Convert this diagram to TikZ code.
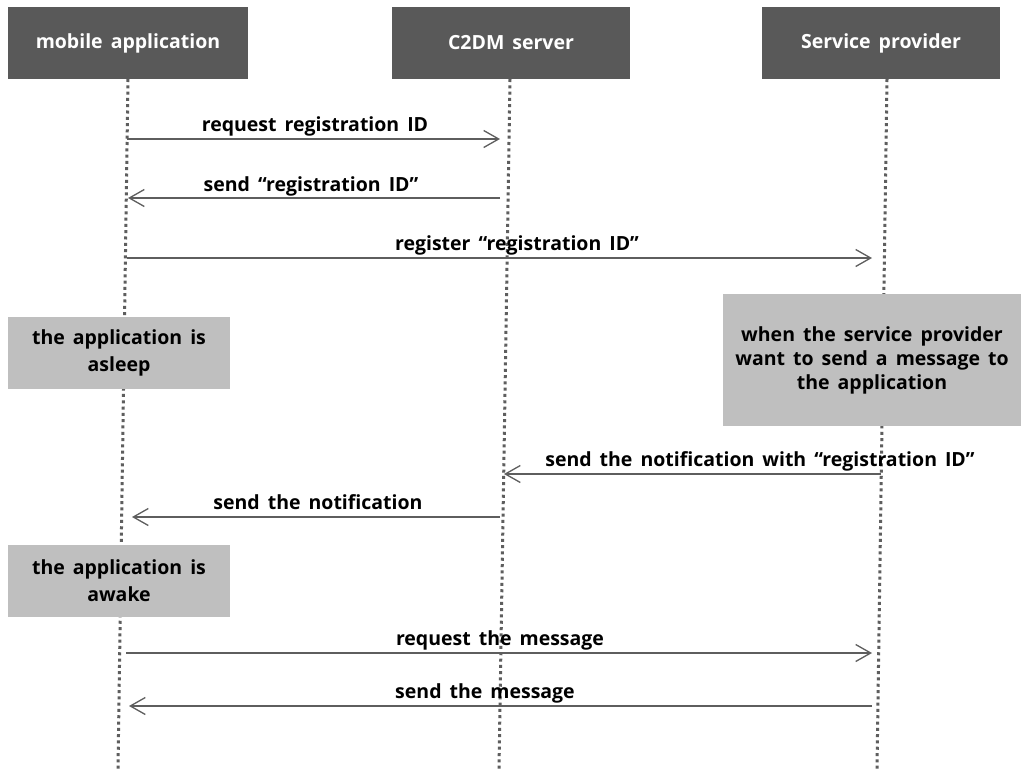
\documentclass[tikz,border=0pt]{standalone}
\usepackage{fontspec}
\setmainfont{Open Sans}
\usetikzlibrary{arrows.meta}

\definecolor{hdrgray}{HTML}{595959}
\definecolor{notegray}{HTML}{BFBFBF}
\definecolor{wiregray}{HTML}{5E5E5E}

% bold lettering with slightly wide word spacing
\newcommand{\lblfont}[1]{\bfseries\fontsize{19.5}{#1}\selectfont\spaceskip=8pt plus 1pt minus 1pt}

\tikzset{
  header/.style={fill=hdrgray, text=white, inner sep=0pt,
    font=\lblfont{22},
    minimum width=240pt, minimum height=72pt},
  notebox/.style={fill=notegray, text=black, inner sep=0pt, align=center,
    font=\lblfont{27}},
  lifeline/.style={draw=wiregray, line width=3pt, dash pattern=on 3pt off 3.3pt},
  msg/.style={draw=wiregray, line width=1.3pt,
    -{Straight Barb[length=15pt,width=17pt,line width=1.3pt]}},
  msglabel/.style={text=black, inner sep=0pt, anchor=base,
    font=\lblfont{22}}
}

\begin{document}
\begin{tikzpicture}[x=1pt, y=-1pt]
  \path[use as bounding box, fill=white] (0,0) rectangle (1028,769);

  % participants
  \node[header] (mob) at (128,43) {mobile application};
  \node[header, minimum width=238pt] (c2dm) at (511,43) {C2DM server};
  \node[header, minimum width=238pt] (prov) at (881,43) {Service provider};

  % lifeline ends
  \coordinate (mobTop) at (128,79);
  \coordinate (c2dmTop) at (510,79);
  \coordinate (provTop) at (887,79);
  \coordinate (mobEnd) at (118,769);
  \coordinate (c2dmEnd) at (499,769);
  \coordinate (provEnd) at (877,769);

  \draw[lifeline] (mobTop) -- (mobEnd);
  \draw[lifeline] (c2dmTop) -- (c2dmEnd);
  \draw[lifeline] (provTop) -- (provEnd);

  % state notes
  \node[notebox, minimum width=222pt, minimum height=72pt] (asleep) at (119,353)
    {the application is\\asleep};
  \node[notebox, minimum width=222pt, minimum height=72pt] (awake) at (119,581)
    {the application is\\awake};
  \node[notebox, font=\lblfont{24},
        minimum width=298pt, minimum height=132pt] (want) at (872,360)
    {when the service provider\\want to send a message to\\the application};

  % message end points
  \coordinate (a1s) at (127,139);  \coordinate (a1e) at (500,139);
  \coordinate (a2s) at (500,198);  \coordinate (a2e) at (128,198);
  \coordinate (a3s) at (127,258);  \coordinate (a3e) at (872,258);
  \coordinate (a4s) at (881,474);  \coordinate (a4e) at (504,474);
  \coordinate (a5s) at (500,517);  \coordinate (a5e) at (132,517);
  \coordinate (a6s) at (126,653);  \coordinate (a6e) at (872,653);
  \coordinate (a7s) at (872,706);  \coordinate (a7e) at (129,706);

  % messages
  \draw[msg] (a1s) -- (a1e);
  \draw[msg] (a2s) -- (a2e);
  \draw[msg] (a3s) -- (a3e);
  \draw[msg] (a4s) -- (a4e);
  \draw[msg] (a5s) -- (a5e);
  \draw[msg] (a6s) -- (a6e);
  \draw[msg] (a7s) -- (a7e);

  % message labels
  \node[msglabel] (l1) at (315,131) {request registration ID};
  \node[msglabel] (l2) at (311,191) {send “registration ID”};
  \node[msglabel] (l3) at (517,250) {register “registration ID”};
  \node[msglabel] (l4) at (760,466) {send the notification with “registration ID”};
  \node[msglabel] (l5) at (318,509) {send the notification};
  \node[msglabel] (l6) at (500,645) {request the message};
  \node[msglabel] (l7) at (485,698) {send the message};
\end{tikzpicture}
\end{document}
